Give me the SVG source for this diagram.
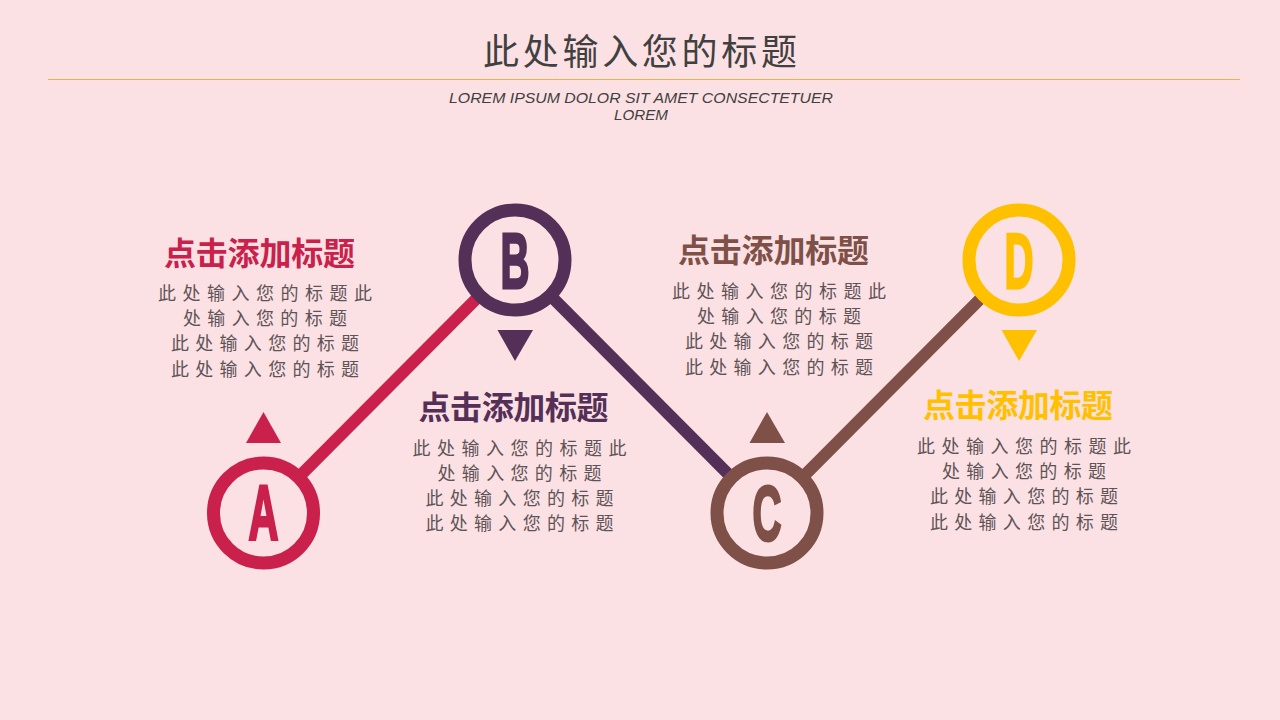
<svg xmlns="http://www.w3.org/2000/svg" width="1280" height="720" viewBox="0 0 1280 720">
<style>
.bg{fill:#FCE1E4}
.ring{fill:#FCE1E4;stroke-width:13}
.conn{stroke-width:12;fill:none}
.letter{font-family:"Liberation Sans","DejaVu Sans",sans-serif;font-weight:bold;font-size:78px;stroke-width:3;stroke-linejoin:miter}
.ttl{font-family:"Noto Sans CJK SC",sans-serif;font-weight:bold;font-size:32px;text-anchor:middle}
.body{font-family:"Noto Sans CJK SC",sans-serif;font-size:18px;fill:#5E5458;text-anchor:middle}
.hdr{font-family:"Noto Sans CJK SC",sans-serif;font-size:36px;fill:#404040;text-anchor:middle}
.sub{font-family:"Liberation Sans",sans-serif;font-style:italic;font-size:15px;fill:#404040;text-anchor:middle}
</style>
<rect class="bg" x="0" y="0" width="1280" height="720"/>
<g id="header">
<text class="hdr" x="640" y="65" textLength="314" lengthAdjust="spacing">此处输入您的标题</text>
<line x1="48" y1="79.5" x2="1240" y2="79.5" stroke="#E9B24A" stroke-width="1"/>
<text class="sub" x="641" y="103" textLength="384" lengthAdjust="spacingAndGlyphs">LOREM IPSUM DOLOR SIT AMET CONSECTETUER</text>
<text class="sub" x="641" y="120" textLength="54" lengthAdjust="spacingAndGlyphs">LOREM</text>
</g>
<g id="connectors">
<line class="conn" x1="263" y1="513" x2="515" y2="260" stroke="#C9214C"/>
<line class="conn" x1="515" y1="260" x2="767" y2="513" stroke="#542F57"/>
<line class="conn" x1="767" y1="513" x2="1019" y2="260" stroke="#7E5047"/>
</g>
<g id="nodeA">
<circle class="ring" cx="263.5" cy="513" r="50" stroke="#C9214C"/>
<text class="letter" x="248.5" y="539.5" textLength="30" lengthAdjust="spacingAndGlyphs" fill="#C9214C" stroke="#C9214C">A</text>
<polygon points="246,443 281,443 263.5,412" fill="#C9214C"/>
</g>
<g id="nodeB">
<circle class="ring" cx="515" cy="260" r="50" stroke="#542F57"/>
<text class="letter" x="500.5" y="287.5" textLength="29" lengthAdjust="spacingAndGlyphs" fill="#542F57" stroke="#542F57">B</text>
<polygon points="497.5,330 533,330 515,361" fill="#542F57"/>
</g>
<g id="nodeC">
<circle class="ring" cx="767" cy="513" r="50" stroke="#7E5047"/>
<text class="letter" x="752.5" y="539.5" textLength="29" lengthAdjust="spacingAndGlyphs" fill="#7E5047" stroke="#7E5047">C</text>
<polygon points="749.5,443 785,443 767,412" fill="#7E5047"/>
</g>
<g id="nodeD">
<circle class="ring" cx="1019" cy="260" r="50" stroke="#FFC000"/>
<text class="letter" x="1004.5" y="287.5" textLength="29" lengthAdjust="spacingAndGlyphs" fill="#FFC000" stroke="#FFC000">D</text>
<polygon points="1001.5,330 1037,330 1019,361" fill="#FFC000"/>
</g>
<g id="panelA">
<text class="ttl" x="259.5" y="265" fill="#C9214C" textLength="191" lengthAdjust="spacing">点击添加标题</text>
<text class="body" x="265" y="300" textLength="214" lengthAdjust="spacing">此处输入您的标题此</text>
<text class="body" x="265" y="325" textLength="164" lengthAdjust="spacing">处输入您的标题</text>
<text class="body" x="265" y="350" textLength="188" lengthAdjust="spacing">此处输入您的标题</text>
<text class="body" x="265" y="376" textLength="188" lengthAdjust="spacing">此处输入您的标题</text>
</g>
<g id="panelB">
<text class="ttl" x="513.5" y="419" fill="#542F57" textLength="190" lengthAdjust="spacing">点击添加标题</text>
<text class="body" x="519.5" y="455" textLength="214" lengthAdjust="spacing">此处输入您的标题此</text>
<text class="body" x="519.5" y="480" textLength="164" lengthAdjust="spacing">处输入您的标题</text>
<text class="body" x="519.5" y="505" textLength="188" lengthAdjust="spacing">此处输入您的标题</text>
<text class="body" x="519.5" y="530" textLength="188" lengthAdjust="spacing">此处输入您的标题</text>
</g>
<g id="panelC">
<text class="ttl" x="773.5" y="262" fill="#7E5047" textLength="191" lengthAdjust="spacing">点击添加标题</text>
<text class="body" x="779" y="298" textLength="214" lengthAdjust="spacing">此处输入您的标题此</text>
<text class="body" x="779" y="323" textLength="164" lengthAdjust="spacing">处输入您的标题</text>
<text class="body" x="779" y="348" textLength="188" lengthAdjust="spacing">此处输入您的标题</text>
<text class="body" x="779" y="374" textLength="188" lengthAdjust="spacing">此处输入您的标题</text>
</g>
<g id="panelD">
<text class="ttl" x="1018" y="417" fill="#FFC000" textLength="190" lengthAdjust="spacing">点击添加标题</text>
<text class="body" x="1024" y="453" textLength="214" lengthAdjust="spacing">此处输入您的标题此</text>
<text class="body" x="1024" y="478" textLength="164" lengthAdjust="spacing">处输入您的标题</text>
<text class="body" x="1024" y="503" textLength="188" lengthAdjust="spacing">此处输入您的标题</text>
<text class="body" x="1024" y="529" textLength="188" lengthAdjust="spacing">此处输入您的标题</text>
</g>
</svg>
